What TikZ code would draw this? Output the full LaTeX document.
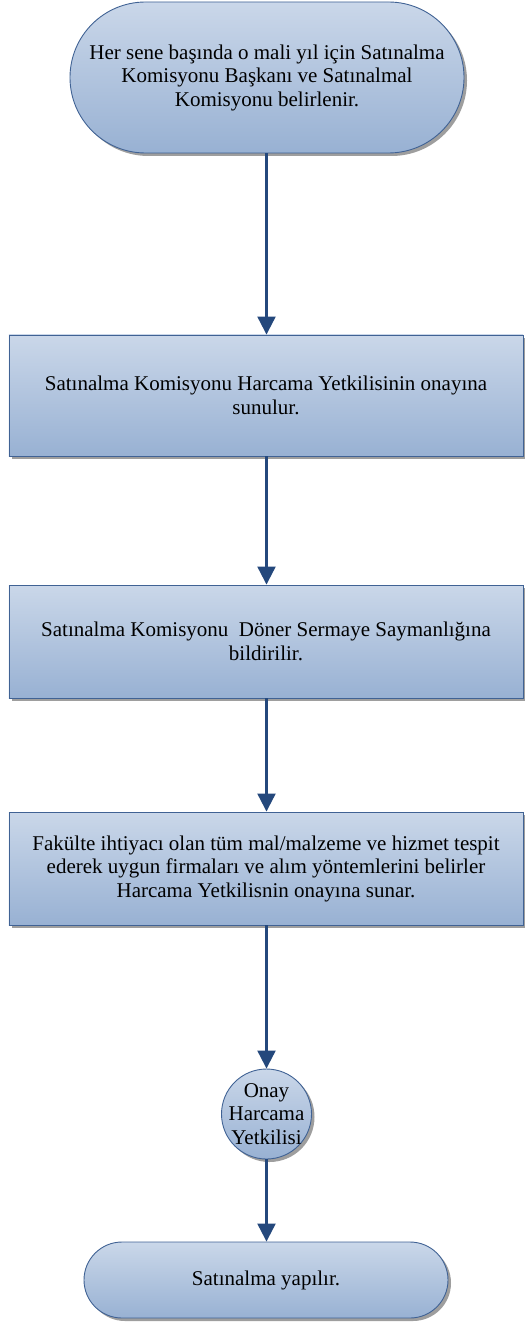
\documentclass[tikz,border=0pt]{standalone}
\usepackage{fontspec}
\setmainfont{Liberation Serif}
\usetikzlibrary{shapes.misc,shadows,arrows.meta}
\definecolor{flowline}{RGB}{36,72,124}
\definecolor{flowedge}{RGB}{64,98,148}
\definecolor{filltop}{RGB}{202,215,233}
\definecolor{fillbot}{RGB}{152,177,211}
\tikzset{
  flowshape/.style={draw=flowedge, line width=0.9bp, top color=filltop, bottom color=fillbot,
    inner sep=0pt, align=center, font=\fontsize{21bp}{23.5bp}\selectfont,
    drop shadow={shadow xshift=3bp, shadow yshift=-3bp, fill=black!38, opacity=1}},
  terminal/.style={flowshape, rounded rectangle},
  process/.style={flowshape, rectangle},
  decision/.style={flowshape, circle},
  label/.style={inner sep=0pt, align=center, font=\fontsize{21bp}{23.5bp}\selectfont},
  flow/.style={draw=flowline, line width=2.2bp, -{Triangle[length=18bp,width=18bp]}},
  plainflow/.style={draw=flowline, line width=2.2bp}
}
\begin{document}
\begin{tikzpicture}[x=1bp, y=-1bp]
  \useasboundingbox (0,0) rectangle (525,1322);

  \node[terminal, minimum width=394bp, minimum height=151bp] (start) at (267,77.5)
    {Her sene başında o mali yıl için Satınalma\\Komisyonu Başkanı ve Satınalmal\\Komisyonu belirlenir.};

  \node[process, minimum width=514bp, minimum height=121bp] (approve) at (266,395.5)
    {Satınalma Komisyonu Harcama Yetkilisinin onayına\\sunulur.};

  \node[process, minimum width=514bp, minimum height=113bp] (notify) at (266,641.5)
    {Satınalma Komisyonu~ Döner Sermaye Saymanlığına\\bildirilir.};

  \node[process, minimum width=514bp, minimum height=113bp] (needs) at (266,868.5)
    {Fakülte ihtiyacı olan tüm mal/malzeme ve hizmet tespit\\ederek uygun firmaları ve alım yöntemlerini belirler\\Harcama Yetkilisnin onayına sunar.};

  \node[decision, minimum size=90bp] (check) at (266.5,1114) {};
  \node[label] (checktext) at (check.center) {Onay\\Harcama\\Yetkilisi};

  \node[terminal, minimum width=364bp, minimum height=76bp] (buy) at (266,1280)
    {Satınalma yapılır.};

  % connectors between the steps
  \draw[flow] (start.south -| check) -- (approve.north -| check);
  \draw[flow] (approve.south -| check) -- (notify.north -| check);
  \draw[flow] (notify.south -| check) -- (needs.north -| check);
  \draw[flow] (needs.south -| check) -- (check.north);
  \draw[flow] (check.south) -- (buy.north -| check);
\end{tikzpicture}
\end{document}
